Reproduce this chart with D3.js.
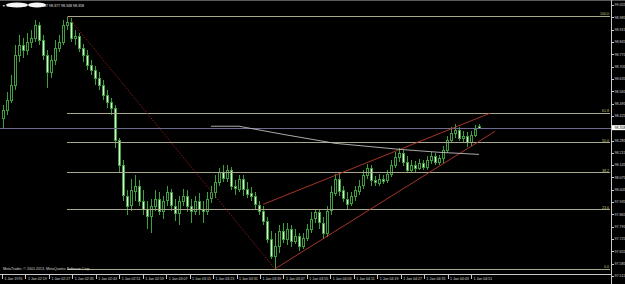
<!DOCTYPE html>
<html lang="en">
<head>
  <meta charset="UTF-8">
  <title>USDJPY,M1</title>
  <script src="https://cdn.jsdelivr.net/npm/d3@7"></script>
  <style>
    html, body { margin: 0; padding: 0; background: #000; }
    svg { display: block; }
    text { font-family: "Liberation Sans", Arial, sans-serif; }
  </style>
</head>
<body>
  <div id="chart"></div>

  <script>
    const width = 625,
      height = 284,
      plotRight = 611,
      plotBottom = 274;

    // candles, one per bar
    const openP = [
      98.411, 98.457, 98.514, 98.600, 98.771, 98.828, 98.799, 98.845, 98.867, 98.942,
      98.856, 98.771, 98.674, 98.742, 98.810, 98.845, 98.942, 98.959, 98.867, 98.879,
      98.810, 98.771, 98.714, 98.685, 98.639, 98.600, 98.543, 98.503, 98.468, 98.286,
      98.144, 97.972, 97.915, 98.001, 98.029, 97.944, 97.898, 97.859, 97.915, 97.955,
      97.887, 97.944, 97.990, 97.915, 97.876, 97.944, 97.972, 97.915, 97.887, 97.944,
      97.898, 97.887, 97.955, 97.990, 98.047, 98.104, 98.069, 98.115, 98.024, 98.012,
      98.069, 98.012, 97.984, 97.967, 97.921, 97.887, 97.830, 97.728, 97.631, 97.688,
      97.773, 97.728, 97.784, 97.716, 97.745, 97.688, 97.733, 97.784, 97.841, 97.876,
      97.819, 97.762, 97.887, 97.990, 98.069, 98.001, 97.955, 97.927, 97.967, 98.001,
      98.029, 98.087, 98.126, 98.058, 98.047, 98.069, 98.058, 98.092, 98.144, 98.189,
      98.212, 98.161, 98.115, 98.144, 98.126, 98.155, 98.132, 98.172, 98.195, 98.161,
      98.183, 98.229, 98.286, 98.326, 98.343, 98.297, 98.309, 98.275, 98.315, 98.367
    ];
    const highP = [
      98.486, 98.560, 98.657, 98.828, 98.884, 98.867, 98.896, 98.913, 98.970, 98.959,
      98.884, 98.799, 98.771, 98.856, 98.884, 98.970, 98.993, 98.981, 98.913, 98.896,
      98.833, 98.799, 98.742, 98.708, 98.674, 98.628, 98.571, 98.525, 98.486, 98.297,
      98.172, 98.001, 98.069, 98.087, 98.058, 98.001, 97.944, 97.955, 98.001, 97.990,
      97.972, 98.029, 98.012, 97.955, 97.972, 98.012, 98.001, 97.955, 97.972, 97.984,
      97.944, 97.990, 98.029, 98.087, 98.126, 98.144, 98.144, 98.132, 98.058, 98.087,
      98.087, 98.047, 98.018, 97.990, 97.944, 97.915, 97.853, 97.773, 97.762, 97.802,
      97.819, 97.819, 97.802, 97.784, 97.762, 97.762, 97.813, 97.876, 97.898, 97.893,
      97.853, 97.915, 98.029, 98.092, 98.092, 98.024, 97.990, 97.990, 98.024, 98.058,
      98.115, 98.149, 98.144, 98.081, 98.092, 98.087, 98.115, 98.172, 98.218, 98.240,
      98.229, 98.195, 98.172, 98.166, 98.178, 98.172, 98.195, 98.218, 98.212, 98.201,
      98.252, 98.309, 98.360, 98.377, 98.360, 98.337, 98.332, 98.337, 98.372, 98.377
    ];
    const lowP = [
      98.354, 98.429, 98.497, 98.571, 98.731, 98.753, 98.771, 98.810, 98.845, 98.828,
      98.742, 98.582, 98.639, 98.714, 98.788, 98.828, 98.913, 98.845, 98.828, 98.788,
      98.731, 98.685, 98.657, 98.600, 98.571, 98.514, 98.468, 98.429, 98.240, 98.104,
      97.944, 97.859, 97.887, 97.944, 97.915, 97.859, 97.784, 97.762, 97.887, 97.859,
      97.841, 97.915, 97.887, 97.830, 97.802, 97.915, 97.876, 97.819, 97.859, 97.859,
      97.819, 97.859, 97.927, 97.961, 98.024, 98.047, 98.052, 98.001, 97.978, 97.990,
      97.972, 97.961, 97.944, 97.898, 97.864, 97.807, 97.705, 97.613, 97.556, 97.648,
      97.705, 97.693, 97.682, 97.699, 97.659, 97.670, 97.716, 97.762, 97.819, 97.784,
      97.728, 97.739, 97.864, 97.967, 97.972, 97.933, 97.898, 97.910, 97.944, 97.978,
      98.012, 98.069, 98.024, 98.024, 98.029, 98.035, 98.041, 98.075, 98.126, 98.161,
      98.138, 98.098, 98.104, 98.104, 98.115, 98.115, 98.115, 98.149, 98.144, 98.144,
      98.155, 98.212, 98.269, 98.297, 98.280, 98.275, 98.246, 98.252, 98.303, 98.348
    ];
    const closeP = [
      98.457, 98.514, 98.600, 98.771, 98.828, 98.799, 98.845, 98.867, 98.942, 98.856,
      98.771, 98.674, 98.742, 98.810, 98.845, 98.942, 98.959, 98.867, 98.879, 98.810,
      98.771, 98.714, 98.685, 98.639, 98.600, 98.543, 98.503, 98.468, 98.286, 98.144,
      97.972, 97.915, 98.001, 98.029, 97.944, 97.898, 97.859, 97.915, 97.955, 97.887,
      97.944, 97.990, 97.915, 97.876, 97.944, 97.972, 97.915, 97.887, 97.944, 97.898,
      97.887, 97.955, 97.990, 98.047, 98.104, 98.069, 98.115, 98.024, 98.012, 98.069,
      98.012, 97.984, 97.967, 97.921, 97.887, 97.830, 97.728, 97.631, 97.688, 97.773,
      97.728, 97.784, 97.716, 97.745, 97.688, 97.733, 97.784, 97.841, 97.876, 97.819,
      97.762, 97.887, 97.990, 98.069, 98.001, 97.955, 97.927, 97.967, 98.001, 98.029,
      98.087, 98.126, 98.058, 98.047, 98.069, 98.058, 98.092, 98.144, 98.189, 98.212,
      98.161, 98.115, 98.144, 98.126, 98.155, 98.132, 98.172, 98.195, 98.161, 98.183,
      98.229, 98.286, 98.326, 98.343, 98.297, 98.309, 98.275, 98.315, 98.349, 98.358
    ];

    const priceTicks = [
      99.055, 98.985, 98.915, 98.845, 98.775, 98.705, 98.635, 98.565, 98.495, 98.425,
      98.285, 98.215, 98.145, 98.075, 98.005, 97.935, 97.865, 97.795, 97.725, 97.655,
      97.585, 97.515
    ];
    const timeLabels = [
      "1 Jan 1970", "1 Jan 02:19", "1 Jan 02:27", "1 Jan 02:35", "1 Jan 02:43",
      "1 Jan 02:51", "1 Jan 02:59", "1 Jan 03:07", "1 Jan 03:15", "1 Jan 03:23",
      "1 Jan 03:31", "1 Jan 03:39", "1 Jan 03:47", "1 Jan 03:55", "1 Jan 04:03",
      "1 Jan 04:11", "1 Jan 04:19", "1 Jan 04:27", "1 Jan 04:35", "1 Jan 04:43",
      "1 Jan 04:51"
    ];

    const lastPrice = 98.358;
    const headerValues = ["98.367", "98.377", "98.348", "98.358"];

    // fibo retracement anchors (bar index, price)
    const fibHighIdx = 16, fibHigh = 98.993;
    const fibLowIdx = 68, fibLow = 97.556;
    const fibLevels = [0.0, 23.6, 38.2, 50.0, 61.8, 100.0];

    // rising channel
    const upperIdx = [65, 121.75], upperPrice = [97.922, 98.440];
    const lowerIdx = [68, 123], lowerPrice = [97.556, 98.337];

    // slow moving average
    const maIdx = [52, 59, 70, 83, 99, 109, 119];
    const maPrice = [98.366, 98.366, 98.320, 98.269, 98.235, 98.218, 98.206];

    const candles = openP.map((o, i) => ({i, o, h: highP[i], l: lowP[i], c: closeP[i]}));

    const x = d3.scaleLinear().domain([0, candles.length - 1]).range([3, 479]);
    const y = d3.scaleLinear().domain([97.515, 99.055]).range([276, 5]);
    const xTime = d3.scalePoint().domain(timeLabels).range([2, 471]);

    const svg = d3.select('#chart')
      .append('svg')
        .attr('width', width)
        .attr('height', height)
        .style('background', '#000');

    const px = v => Math.round(v) + 0.5;
    const barColor = '#3f9f3f';

    // candles
    const cg = svg.append('g').attr('shape-rendering', 'crispEdges');
    cg.selectAll('line.wick')
      .data(candles)
      .join('line')
        .attr('class', 'wick')
        .attr('x1', d => px(x(d.i))).attr('x2', d => px(x(d.i)))
        .attr('y1', d => Math.round(y(d.h))).attr('y2', d => Math.round(y(d.l)))
        .attr('stroke', barColor);
    cg.selectAll('rect.body')
      .data(candles)
      .join('rect')
        .attr('class', 'body')
        .attr('x', d => Math.round(x(d.i)) - 0.5)
        .attr('width', 2)
        .attr('y', d => px(y(Math.max(d.o, d.c))))
        .attr('height', d => Math.max(0.01, Math.round(Math.abs(y(d.o) - y(d.c)))))
        .attr('fill', d => d.c >= d.o ? '#000' : '#dcefd4')
        .attr('stroke', barColor);

    // fibo lines
    const fibY = lvl => y(fibLow + (fibHigh - fibLow) * lvl / 100);
    svg.selectAll('line.fib')
      .data(fibLevels)
      .join('line')
        .attr('x1', x(fibHighIdx)).attr('x2', plotRight - 1)
        .attr('y1', d => px(fibY(d))).attr('y2', d => px(fibY(d)))
        .attr('stroke', '#a9a98a')
        .attr('stroke-width', 1);
    svg.selectAll('text.fib')
      .data(fibLevels)
      .join('text')
        .attr('x', plotRight - 2)
        .attr('y', d => fibY(d) - 0.5)
        .attr('text-anchor', 'end')
        .attr('font-size', 3.6)
        .attr('fill', '#c8c070')
        .text(d => d.toFixed(1));

    // dotted fibo base
    svg.append('line')
      .attr('x1', x(fibHighIdx)).attr('y1', y(fibHigh))
      .attr('x2', x(fibLowIdx)).attr('y2', y(fibLow))
      .attr('stroke', '#9a1e1e')
      .attr('stroke-dasharray', '1.5,1.5')
      .attr('stroke-width', 0.9);

    // current price line
    svg.append('line')
      .attr('x1', 0).attr('x2', plotRight)
      .attr('y1', px(y(lastPrice))).attr('y2', px(y(lastPrice)))
      .attr('stroke', '#6c6c8e');

    // channel
    [[upperIdx, upperPrice], [lowerIdx, lowerPrice]].forEach(([ix, pr]) => {
      svg.append('line')
        .attr('x1', x(ix[0])).attr('y1', y(pr[0]))
        .attr('x2', x(ix[1])).attr('y2', y(pr[1]))
        .attr('stroke', '#b83a2c')
        .attr('stroke-width', 0.9);
    });

    // moving average
    svg.append('path')
      .datum(maIdx.map((d, k) => [d, maPrice[k]]))
      .attr('d', d3.line().x(d => x(d[0])).y(d => y(d[1])))
      .attr('fill', 'none')
      .attr('stroke', '#bdbdbd')
      .attr('stroke-width', 0.9);

    // frame
    svg.append('line').attr('x1', 0).attr('x2', width).attr('y1', 0.5).attr('y2', 0.5)
      .attr('stroke', '#5a5a5a');
    svg.append('line').attr('x1', px(plotRight)).attr('x2', px(plotRight))
      .attr('y1', 0).attr('y2', height).attr('stroke', '#c8c8c8');
    svg.append('line').attr('x1', 0).attr('x2', plotRight).attr('y1', px(plotBottom)).attr('y2', px(plotBottom))
      .attr('stroke', '#c8c8c8');

    // price axis
    const ya = svg.append('g');
    ya.selectAll('line')
      .data(priceTicks)
      .join('line')
        .attr('x1', plotRight).attr('x2', plotRight + 3)
        .attr('y1', d => px(y(d))).attr('y2', d => px(y(d)))
        .attr('stroke', '#c8c8c8');
    ya.selectAll('text')
      .data(priceTicks)
      .join('text')
        .attr('x', plotRight + 3.5)
        .attr('y', d => y(d) + 1.3)
        .attr('font-size', 3.6)
        .attr('fill', '#d8d8d8')
        .text(d => d.toFixed(3));

    // last price tag
    ya.append('rect')
      .attr('x', plotRight + 1).attr('y', y(lastPrice) - 2.5)
      .attr('width', width - plotRight - 1).attr('height', 5)
      .attr('fill', '#fff');
    ya.append('text')
      .attr('x', plotRight + 3.5)
      .attr('y', y(lastPrice) + 1.3)
      .attr('font-size', 3.6)
      .attr('fill', '#000')
      .text(lastPrice.toFixed(3));

    // time axis
    const xa = svg.append('g');
    xa.selectAll('line')
      .data(timeLabels)
      .join('line')
        .attr('x1', d => px(xTime(d))).attr('x2', d => px(xTime(d)))
        .attr('y1', plotBottom).attr('y2', plotBottom + 5)
        .attr('stroke', '#c8c8c8');
    xa.selectAll('text')
      .data(timeLabels)
      .join('text')
        .attr('x', d => xTime(d) + 2.5)
        .attr('y', plotBottom + 6)
        .attr('font-size', 3.6)
        .attr('fill', '#d8d8d8')
        .text(d => d);

    // header + copyright
    svg.append('text')
      .attr('x', 2).attr('y', 6.5)
      .attr('font-size', 3.6)
      .attr('fill', '#e0e0e0')
      .text('\u25BC USDJPY,M1');
    svg.append('text')
      .attr('x', 84).attr('y', 6.5)
      .attr('text-anchor', 'end')
      .attr('font-size', 3.6)
      .attr('fill', '#e0e0e0')
      .text(headerValues.join(' '));
    svg.append('ellipse').attr('cx', 17).attr('cy', 5).attr('rx', 11).attr('ry', 2.6).attr('fill', '#f4f4f4');
    svg.append('ellipse').attr('cx', 37).attr('cy', 5).attr('rx', 9).attr('ry', 2.4).attr('fill', '#f4f4f4');

    svg.append('text')
      .attr('x', 3).attr('y', plotBottom - 4)
      .attr('font-size', 3.6)
      .attr('fill', '#d8d8d8')
      .text('MetaTrader, \u00A9 2001-2013, MetaQuotes Software Corp.');
  </script>
</body>
</html>
